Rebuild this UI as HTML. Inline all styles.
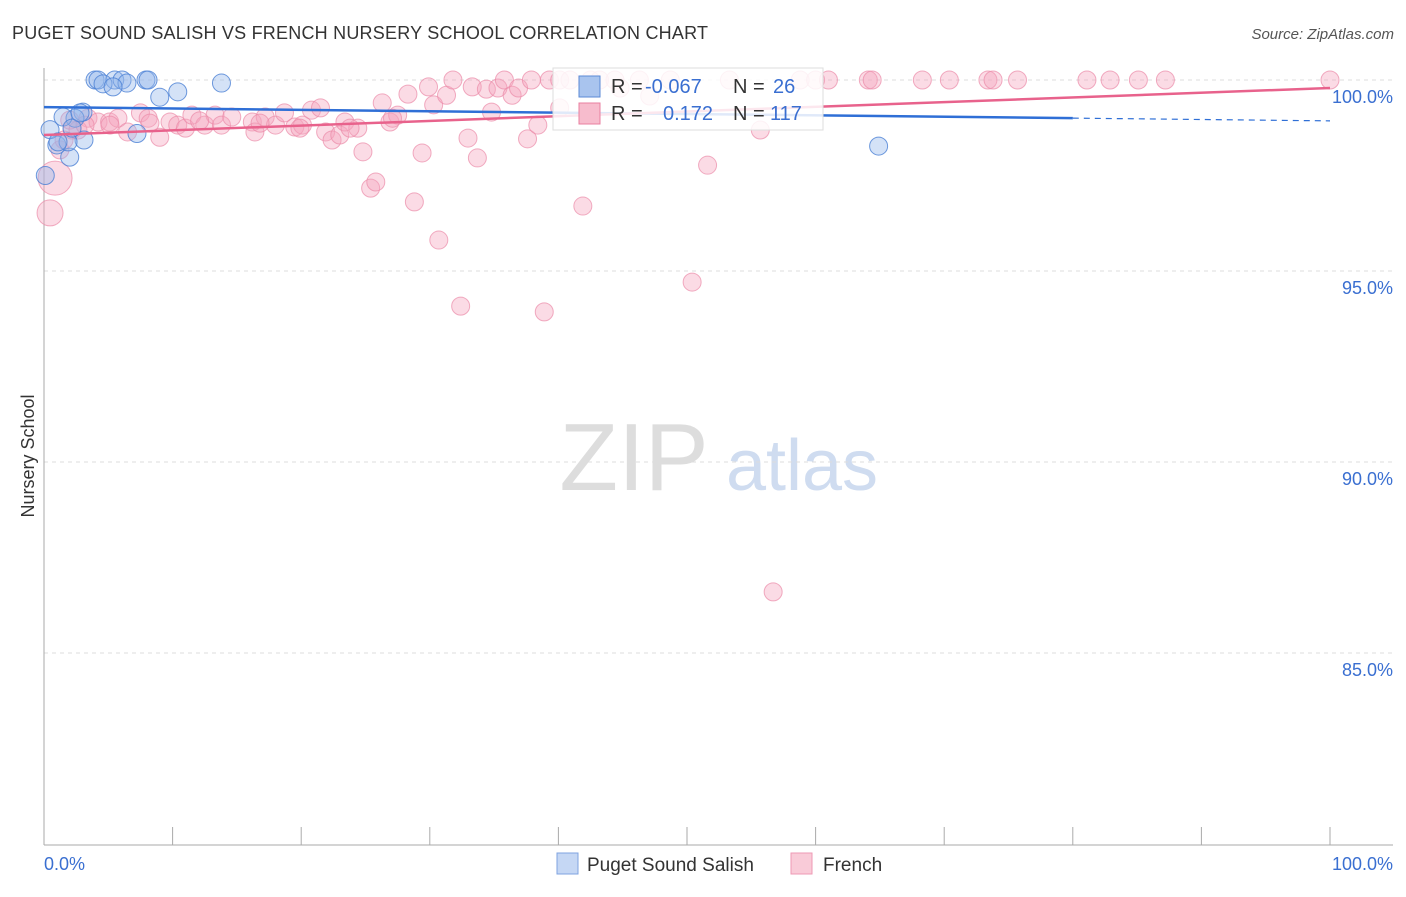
<!DOCTYPE html>
<html><head><meta charset="utf-8"><style>
body{margin:0;background:#fff;font-family:"Liberation Sans",sans-serif}
svg text{font-family:"Liberation Sans",sans-serif}
</style></head><body>
<svg id="c" width="1406" height="892">
<text x="12" y="39" font-size="18" fill="#333" textLength="696">PUGET SOUND SALISH VS FRENCH NURSERY SCHOOL CORRELATION CHART</text>
<text x="1394" y="39" font-size="15" fill="#555" text-anchor="end" font-style="italic">Source: ZipAtlas.com</text>
<text x="34" y="456" font-size="18" fill="#333" text-anchor="middle" transform="rotate(-90 34 456)">Nursery School</text>
<g><text x="634" y="490" font-size="96" fill="#ddd" text-anchor="middle" font-family="Liberation Serif">ZIP</text><text x="802" y="490" font-size="72" fill="#cfdcf0" text-anchor="middle">atlas</text></g>
<g id="grid"></g><g id="pts"></g><g id="trend"></g>
<g>
<rect x="553" y="68" width="270" height="62" fill="#fff" fill-opacity="0.85" stroke="#ddd"/>
<rect x="579" y="76" width="21" height="21" fill="#a9c4ee" stroke="#5b8ad6"/>
<rect x="579" y="103" width="21" height="21" fill="#f7bccd" stroke="#e87fa0"/>
<text x="611" y="93" font-size="20" fill="#333">R = </text><text x="645" y="93" font-size="20" fill="#3a6fd1">-0.067</text>
<text x="733" y="93" font-size="20" fill="#333">N = </text><text x="773" y="93" font-size="20" fill="#3a6fd1">26</text>
<text x="611" y="120" font-size="20" fill="#333">R = </text><text x="663" y="120" font-size="20" fill="#3a6fd1">0.172</text>
<text x="733" y="120" font-size="20" fill="#333">N = </text><text x="770" y="120" font-size="20" fill="#3a6fd1">117</text>
</g>
<g>
<rect x="557" y="853" width="21" height="21" fill="#c5d7f4" stroke="#7fa3e0"/>
<text x="587" y="871" font-size="19" fill="#333">Puget Sound Salish</text>
<rect x="791" y="853" width="21" height="21" fill="#f9cbd8" stroke="#ee9ab4"/>
<text x="823" y="871" font-size="19" fill="#333">French</text>
</g>
</svg>
<script>
const yTicks=[100,95,90,85];
const xTickLabels=["0.0%","100.0%"];
const blueX=[3.97,4.2,5.5,6.07,6.45,4.59,5.37,7.93,8.09,13.8,10.4,9.0,2.0,3.03,2.41,1.0,0.1,0.47,7.23,3.11,1.87,1.09,64.9,1.48,2.18,2.8];
const blueY=[100,100,100,100,99.92,99.9,99.82,100,100,99.92,99.69,99.55,97.98,99.16,99.0,98.3,97.5,98.7,98.6,98.43,98.38,98.38,98.27,99.03,98.74,99.14];
const pinkX=[0.47,0.86,1.24,2.18,3.42,4.2,5.1,5.75,6.5,7.5,8.1,9.0,9.8,10.4,11.0,11.5,12.5,13.3,13.8,14.6,16.2,16.4,17.2,18.0,18.7,19.5,20.1,20.8,21.5,21.9,22.4,23.0,23.4,24.4,24.8,25.4,25.8,26.3,26.9,27.5,28.3,28.8,29.4,29.9,30.3,30.7,31.3,31.8,32.4,32.97,33.3,33.7,34.4,34.8,35.3,35.8,36.4,36.9,37.6,37.9,38.4,38.9,39.3,40.1,40.9,41.9,42.5,43.2,44.4,46.3,48.7,50.4,51.6,53.3,55.7,56.7,58.8,60.0,61.0,64.1,64.4,68.3,70.4,73.4,73.8,75.7,81.1,82.9,85.1,87.2,100,1.56,2.0,2.64,3.19,5.13,8.24,12.1,16.8,19.9,23.8,27.1,40.1,44.8,47.1];
const pinkY=[96.52,97.43,98.17,98.69,99.0,98.9,98.9,99.0,98.64,99.14,99.0,98.5,98.9,98.82,98.74,99.08,98.82,99.08,98.82,99.03,98.9,98.64,99.03,98.82,99.14,98.77,98.82,99.21,99.27,98.64,98.43,98.56,98.9,98.74,98.12,97.17,97.33,99.4,98.9,99.08,99.63,96.81,98.09,99.82,99.35,95.81,99.6,100,94.08,98.48,99.82,97.96,99.76,99.16,99.79,100,99.6,99.79,98.46,100,98.82,93.93,100,100,100,96.7,100,100,100,100,100,94.71,97.77,100,98.69,86.6,100,100,100,100,100,100,100,100,100,100,100,100,100,100,100,98.43,98.95,98.69,98.82,98.82,98.87,98.93,98.87,98.74,98.74,99.0,99.27,99.79,99.58];
const blueTrend=[99.29,98.93];
const pinkTrend=[98.56,99.79];
const NS="http://www.w3.org/2000/svg";
const X=v=>44+v*12.86, Y=v=>80+(100-v)*38.2;
function mk(t,a,p){const e=document.createElementNS(NS,t);for(const k in a)e.setAttribute(k,a[k]);p.appendChild(e);return e;}
const g=document.getElementById('grid');
yTicks.forEach(t=>{
 const l=mk('line',{x1:44,x2:1393,y1:Y(t),y2:Y(t),stroke:'#ddd','stroke-dasharray':'4,4'},g);
 
 
 const tx=mk('text',{x:1393,y:Y(t)+23,'font-size':18,fill:'#3a6fd1','text-anchor':'end'},g);
 tx.textContent=t.toFixed(1)+'%';
 
 
});
const ax=mk('line',{x1:44,x2:44,y1:68,y2:845,stroke:'#aaa'},g);


const bx=mk('line',{x1:44,x2:1393,y1:845,y2:845,stroke:'#aaa'},g);


for(let i=0;i<=10;i++){const t=mk('line',{x1:X(i*10),x2:X(i*10),y1:827,y2:845,stroke:'#aaa'},g);
 
 }
[[0,'start',44],[100,'end',1393]].forEach((d,i)=>{const t=mk('text',{x:d[2],y:870,'font-size':18,fill:'#3a6fd1','text-anchor':d[1]},g);t.textContent=xTickLabels[i];
 
 });
const p=document.getElementById('pts');
pinkX.forEach((x,i)=>{const r=i==0?13:(i==1?17:9);const c=mk('circle',{cx:X(x),cy:Y(pinkY[i]),r:r,fill:'#f4a6bd','fill-opacity':0.4,stroke:'#eb8aa8','stroke-opacity':0.7},p);
 
 });
blueX.forEach((x,i)=>{const c=mk('circle',{cx:X(x),cy:Y(blueY[i]),r:9,fill:'#93b6ea','fill-opacity':0.4,stroke:'#4a7fd4','stroke-opacity':0.8},p);
 
 });
const tr=document.getElementById('trend');
const by=x=>blueTrend[0]+(blueTrend[1]-blueTrend[0])*x/100;
let l1=mk('line',{x1:X(0),y1:Y(by(0)),x2:X(80),y2:Y(by(80)),stroke:'#2f6fd6','stroke-width':2.5},tr);


let l2=mk('line',{x1:X(80),y1:Y(by(80)),x2:X(100),y2:Y(by(100)),stroke:'#2f6fd6','stroke-width':1.2,'stroke-dasharray':'6,5'},tr);


let l3=mk('line',{x1:X(0),y1:Y(pinkTrend[0]),x2:X(100),y2:Y(pinkTrend[1]),stroke:'#e8628c','stroke-width':2.5},tr);


</script>
</body></html>
